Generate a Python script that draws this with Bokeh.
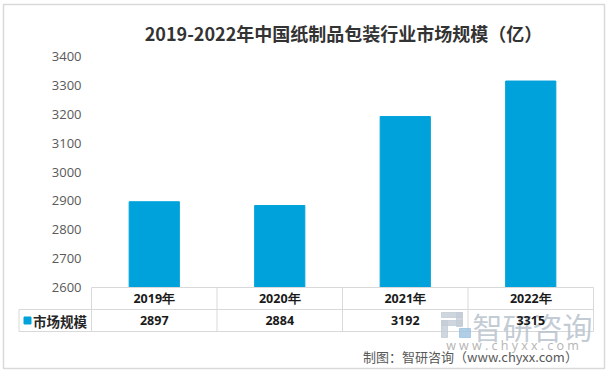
from bokeh.plotting import figure
from bokeh.models import Range1d
from bokeh.core.properties import value
from bokeh.embed import file_html
from bokeh.resources import INLINE

# ---- data ----
years = ["2019年", "2020年", "2021年", "2022年"]
market = [2897, 2884, 3192, 3315]
y_ticks = [2600, 2700, 2800, 2900, 3000, 3100, 3200, 3300, 3400]
series_name = "市场规模"
title_text = "2019-2022年中国纸制品包装行业市场规模（亿）"
source_text = "制图：智研咨询（www.chyxx.com）"
watermark_text = "智研咨询"
watermark_url = "w w w . c h y x x . c o m"

# ---- layout helpers (pixel -> data) ----
W, H = 611, 372
OX, OY = 0, 0
X0, CW = 91.0, 125.5
Y0, PX = 287.0, 231.0 / 800.0


def gx(ix):
    return (ix - X0) / CW


def gy(iy):
    return y_ticks[0] + (Y0 - iy) / PX


BLUE = "#00A2DB"
GRID = "#D9D9D9"
FONT = "Open Sans"
CJK = "Noto Sans CJK SC"

p = figure(width=W, height=H,
           x_range=Range1d(gx(OX), gx(OX + W)),
           y_range=Range1d(gy(OY + H), gy(OY)),
           x_axis_type=None, y_axis_type=None,
           toolbar_location=None, output_backend="svg", min_border=0)
p.outline_line_color = None
p.background_fill_color = "white"
p.border_fill_color = "white"

n = len(years)
xc = [i + 0.5 for i in range(n)]

# outer chart border
p.quad(left=[gx(3)], right=[gx(604)], top=[gy(4)], bottom=[gy(368)],
       fill_color=None, line_color=GRID, line_width=1.5)

# bars
p.vbar(x=xc, top=market, bottom=y_ticks[0], width=0.4, color=BLUE)

# table lines
hx0 = [gx(91), gx(18.5), gx(18.5)]
hx1 = [gx(593), gx(593), gx(593)]
hy = [gy(287), gy(309), gy(331)]
p.segment(x0=hx0, y0=hy, x1=hx1, y1=hy, line_color=GRID, line_width=1)
vx = [gx(18.5)] + [float(i) for i in range(n + 1)]
vy0 = [gy(309)] + [gy(287)] * (n + 1)
vy1 = [gy(331)] * (n + 2)
p.segment(x0=vx, y0=vy0, x1=vx, y1=vy1, line_color=GRID, line_width=1)

# watermark (under the table texts)
WM = "#C3CCD6"
p.quad(left=[gx(441), gx(456), gx(441), gx(441)],
       right=[gx(462), gx(462), gx(462), gx(447)],
       top=[gy(312), gy(312), gy(320), gy(320)],
       bottom=[gy(317), gy(326), gy(325), gy(337)],
       color=WM, alpha=0.8)
p.quad(left=[gx(459)], right=[gx(470)], top=[gy(328)], bottom=[gy(337)],
       color="#9CC3E0", alpha=0.8)
p.text(x=[gx(472)], y=[gy(325)], text=[watermark_text], text_align="left",
       text_baseline="middle", text_font=value(CJK), text_font_size="30px",
       text_color="#B8C2CE", text_alpha=0.85)
p.text(x=[gx(512)], y=[gy(345)], text=[watermark_url], text_align="center",
       text_baseline="middle", text_font=value(FONT), text_font_size="12.5px",
       text_color="#B5B5B5")

# y tick labels
p.text(x=[gx(81)] * len(y_ticks), y=y_ticks, text=[str(t) for t in y_ticks],
       text_align="right", text_baseline="middle", text_font=value(FONT),
       text_font_size="13px", text_color="#595959")

# table texts
p.text(x=xc, y=[gy(298)] * n, text=years, text_align="center",
       text_baseline="middle", text_font=value(FONT), text_font_style="bold",
       text_font_size="12.5px", text_color="#1a1a1a")
p.text(x=xc, y=[gy(320)] * n, text=[str(v) for v in market],
       text_align="center", text_baseline="middle", text_font=value(FONT),
       text_font_style="bold", text_font_size="12.5px", text_color="#1a1a1a")

# legend key in table
p.scatter(x=[gx(27)], y=[gy(320)], marker="square", size=7, color=BLUE)
p.text(x=[gx(32.5)], y=[gy(320)], text=[series_name], text_align="left",
       text_baseline="middle", text_font=value(CJK), text_font_style="bold",
       text_font_size="13.5px", text_color="#262626")

# title
p.text(x=[gx(343)], y=[gy(32)], text=[title_text], text_align="center",
       text_baseline="middle", text_font=value(CJK), text_font_style="bold",
       text_font_size="18px", text_color="#333333")

# source
p.text(x=[gx(470)], y=[gy(356)], text=[source_text], text_align="center",
       text_baseline="middle", text_font=value(CJK), text_font_size="13px",
       text_color="#595959")

open("out.html", "w").write(file_html(p, INLINE))
